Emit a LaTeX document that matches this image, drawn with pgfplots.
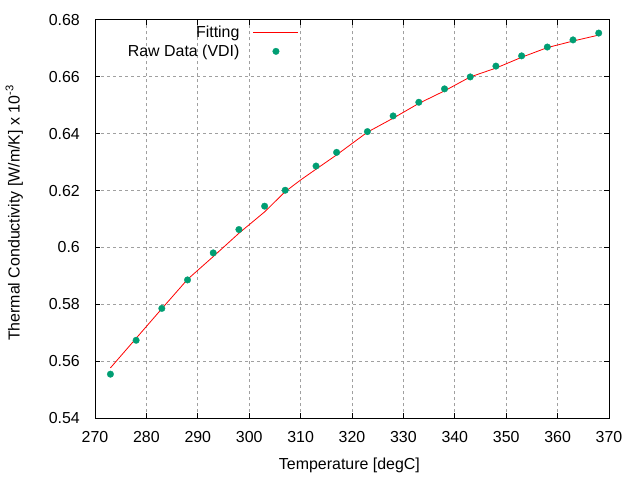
\documentclass[border=0pt]{standalone}
\usepackage{fontspec}
\setmainfont{Liberation Sans}
\usepackage{pgfplots}
\pgfplotsset{compat=1.18}
\definecolor{rawgreen}{RGB}{0,158,115}
\definecolor{gridgray}{RGB}{160,160,160}
\pgfplotsset{
  mylegline/.style={legend image code/.code={\path[draw=none,fill=none] (0bp,0bp) -- (57bp,0bp);\draw[##1] (12bp,0bp) -- (57bp,0bp);}},
  mylegmark/.style={legend image code/.code={\path[draw=none,fill=none] (0bp,0bp) -- (57bp,0bp);\draw[mark repeat=2,mark phase=2,##1] plot coordinates {(12bp,0bp) (34.5bp,0bp) (57bp,0bp)};}},
}
\begin{document}
\begin{tikzpicture}[font=\fontsize{16}{19.2}\selectfont]
\useasboundingbox (0,0) rectangle (640bp,480bp);
\begin{axis}[
  at={(95bp,61.7bp)}, anchor=south west,
  scale only axis, width=514bp, height=398.6bp,
  xmin=270, xmax=370, ymin=0.54, ymax=0.68,
  xtick={270,280,...,370},
  ytick={0.54,0.56,0.58,0.6,0.62,0.64,0.66,0.68},
  /pgf/number format/assume math mode=true,
  /pgf/number format/fixed, /pgf/number format/precision=2,
  tick align=inside, xtick pos=both, ytick pos=both,
  major tick length=5bp,
  tick style={black, line width=0.8bp},
  axis line style={black, line width=0.9bp},
  grid=major,
  major grid style={gridgray, line width=0.8bp, dash pattern=on 3bp off 3bp},
  every tick label/.append style={inner sep=0pt},
  xticklabel shift=13bp, yticklabel shift=15bp,
  xlabel={Temperature [degC]},
  ylabel={Thermal Conductivity [W/m/K] x 10\textsuperscript{-3}},
  every axis x label/.style={at={(axis description cs:0.495,-0.0996)}, anchor=north, inner sep=0pt},
  every axis y label/.style={at={(axis description cs:-0.140,0.515)}, rotate=90, anchor=south, inner sep=0pt},
  legend plot pos=right,
  legend cell align=right,
  legend style={draw=none, fill=none, at={(0.397,0.989)}, anchor=north east, inner sep=0pt,
    nodes={inner sep=2bp}, row sep=1.5bp},
]
\addplot[red, line width=0.8bp, mylegline]
coordinates {
(273,0.5577) (278,0.5681) (283,0.5785) (286.5,0.5857) (288,0.5888) (293,0.5968)
(298,0.6050) (303,0.6125) (307,0.6196) (310,0.6237) (313,0.6275) (317,0.6325)
(323,0.6405) (328,0.6454) (333,0.6506) (338,0.6550) (343,0.6599)
(348,0.6630) (353,0.6668) (358,0.6702) (363,0.6725) (368,0.6746)
};
\addlegendentry{Fitting}
\addplot[only marks, mark=*, mark size=3.3bp, mark options={fill=rawgreen, draw=rawgreen, line width=0.3bp}, mylegmark]
coordinates {
(273,0.5555) (278,0.5674) (283,0.5786) (288,0.5886) (293,0.5981)
(298,0.6063) (303,0.6145) (307,0.6201) (313,0.6286) (317,0.6334)
(323,0.6407) (328,0.6462) (333,0.6510) (338,0.6557) (343,0.6599)
(348,0.6637) (353,0.6673) (358,0.6704) (363,0.6729) (368,0.6753)
};
\addlegendentry{Raw Data (VDI)}
\end{axis}
\end{tikzpicture}
\end{document}
